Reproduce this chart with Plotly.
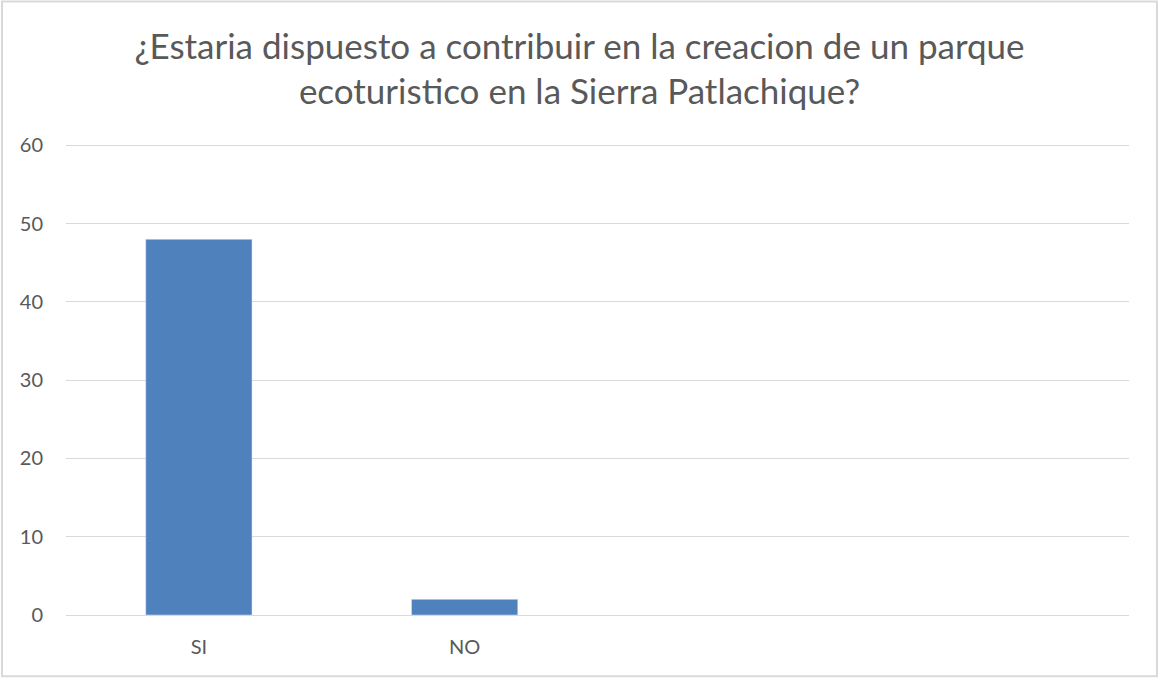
import plotly.graph_objects as go

categories = ["SI", "NO", " ", "  "]
values = [48, 2, None, None]
tick_vals = [0, 10, 20, 30, 40, 50, 60]

title = "¿Estaria dispuesto a contribuir en la creacion de un parque<br>ecoturistico en la Sierra Patlachique?"

fig = go.Figure()
fig.add_trace(go.Bar(x=categories, y=values, marker_color="#4F81BD", width=0.4))

fig.update_layout(
    width=1159, height=678,
    margin=dict(l=66, r=30, t=143, b=63),
    plot_bgcolor="white", paper_bgcolor="white",
    font=dict(family="Lato", color="#595959"),
    title=dict(text=title, x=0.5, xanchor="center", y=0.913, yanchor="top",
               font=dict(size=35, color="#595959")),
    showlegend=False,
)
fig.update_xaxes(showgrid=False, showline=True, linecolor="#D9D9D9", linewidth=1,
                 tickfont=dict(size=20), ticks="", ticklabelstandoff=14)
# range a little above 60 so plotly still draws the top gridline
fig.update_yaxes(range=[0, 60.3], tickvals=tick_vals, showgrid=True, gridcolor="#D9D9D9",
                 zeroline=False, tickfont=dict(size=20), ticklabelstandoff=22)

# light grey border around the whole chart
fig.add_shape(type="rect", xref="paper", yref="paper",
              x0=-0.0602, x1=1.0263, y0=-0.130, y1=1.3,
              line=dict(color="#D9D9D9", width=2), fillcolor="rgba(0,0,0,0)")

fig.write_html("out.html", config={"displayModeBar": False},
               post_script="document.body.style.margin='0';")
